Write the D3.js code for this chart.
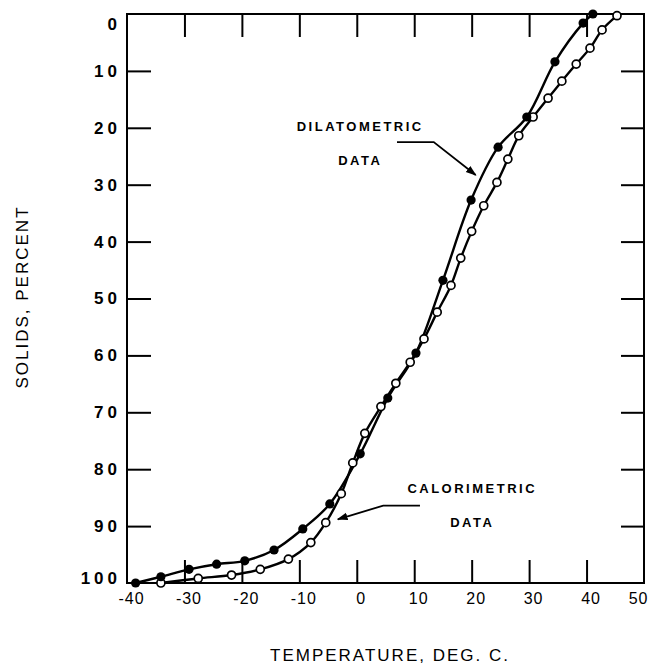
<!DOCTYPE html>
<html lang="en">
<head>
    <meta charset="UTF-8">
    <title>Solids vs temperature</title>
    <script src="https://d3js.org/d3.v7.min.js"></script>
    <style>
        body { margin: 0; background: #fff; }
        svg { display: block; }
        .ylab text { font-family: "Liberation Sans", Arial, sans-serif; font-weight: bold; font-size: 17px; letter-spacing: 4px; }
        .xlab text { font-family: "Liberation Sans", Arial, sans-serif; font-size: 16px; letter-spacing: 1px; }
        .note { font-family: "Liberation Sans", Arial, sans-serif; font-weight: bold; font-size: 13px; letter-spacing: 2.5px; }
        .title { font-family: "Liberation Sans", Arial, sans-serif; font-size: 17px; letter-spacing: 2px; }
    </style>
</head>
<body>
<div id="chart"></div>
<script>
    // dilatometric data (filled dots)
    var dilTemp   = [-38.5, -34.1, -29.2, -24.4, -19.5, -14.4, -9.4, -4.7, 0.6, 5.4, 10.3, 15.0, 19.9, 24.6, 29.6, 34.5, 39.4, 41.1];
    var dilSolids = [100, 98.9, 97.6, 96.7, 96.1, 94.2, 90.5, 86.1, 77.3, 67.5, 59.6, 46.8, 32.7, 23.4, 18.1, 8.4, 1.6, 0];

    // calorimetric data (open dots)
    var calTemp   = [-34.1, -27.6, -21.8, -16.8, -11.9, -8.0, -5.4, -2.7, -0.7, 1.4, 4.2, 6.8, 9.3, 11.7, 14.0, 16.4, 18.1, 20.0, 22.1, 24.4, 26.3, 28.2, 30.7, 33.3, 35.7, 38.2, 40.6, 42.7, 45.3];
    var calSolids = [100, 99.2, 98.6, 97.6, 95.8, 92.9, 89.4, 84.3, 78.9, 73.7, 69.0, 64.9, 61.2, 57.1, 52.4, 47.7, 42.9, 38.2, 33.7, 29.6, 25.5, 21.4, 18.1, 14.8, 11.8, 8.8, 6.0, 2.8, 0.3];

    var xTicks = [-40, -30, -20, -10, 0, 10, 20, 30, 40, 50];
    var yTicks = [0, 10, 20, 30, 40, 50, 60, 70, 80, 90, 100];

    var width = 649, height = 668;

    var svg = d3.select("#chart").append("svg")
        .attr("width", width)
        .attr("height", height);

    var x = d3.scaleLinear().domain([-40, 50]).range([127, 644]);
    var y = d3.scaleLinear().domain([0, 100]).range([14, 583]);

    svg.append("defs").append("marker")
        .attr("id", "head")
        .attr("viewBox", "0 0 10 10")
        .attr("refX", 9).attr("refY", 5)
        .attr("markerWidth", 6).attr("markerHeight", 6)
        .attr("orient", "auto")
        .append("path").attr("d", "M0,1.5 L10,5 L0,8.5 z").attr("fill", "#000");

    // ticks inside the frame
    var inner = xTicks.slice(1, -1);
    var innerY = yTicks.slice(1, -1);

    svg.append("g").attr("transform", "translate(0," + y(0) + ")")
        .call(d3.axisTop(x).tickValues(inner).tickSize(-23).tickFormat(""))
        .call(function(g) { g.select(".domain").remove(); });

    var xb = svg.append("g").attr("class", "xlab").attr("transform", "translate(0," + y(100) + ")")
        .call(d3.axisBottom(x).tickValues(xTicks).tickSize(-23).tickPadding(10).tickFormat(function(d) { return String(d); }))
        .call(function(g) { g.select(".domain").remove(); });
    xb.selectAll(".tick text").attr("dx", 4);
    xb.selectAll(".tick").filter(function(d) { return d === 50; }).select("text")
        .attr("text-anchor", "end").attr("dx", 4);
    xb.selectAll(".tick").filter(function(d) { return d === -40 || d === 50; }).select("line").remove();

    var yl = svg.append("g").attr("class", "ylab").attr("transform", "translate(" + x(-40) + ",0)")
        .call(d3.axisLeft(y).tickValues(yTicks).tickSize(-24).tickPadding(6))
        .call(function(g) { g.select(".domain").remove(); });
    yl.selectAll(".tick").filter(function(d) { return d === 0; }).select("text").attr("dy", "0.9em");
    yl.selectAll(".tick").filter(function(d) { return d === 100; }).select("text").attr("dy", "0");
    yl.selectAll(".tick").filter(function(d) { return d === 0 || d === 100; }).select("line").remove();

    svg.append("g").attr("transform", "translate(" + x(50) + ",0)")
        .call(d3.axisRight(y).tickValues(innerY).tickSize(-23).tickFormat(""))
        .call(function(g) { g.select(".domain").remove(); });

    svg.selectAll(".tick line").attr("stroke", "#000").attr("stroke-width", 2);
    svg.selectAll(".tick text").attr("fill", "#000");

    // frame
    svg.append("rect")
        .attr("x", x(-40)).attr("y", y(0))
        .attr("width", x(50) - x(-40)).attr("height", y(100) - y(0))
        .attr("fill", "none").attr("stroke", "#000").attr("stroke-width", 2);

    var line = d3.line()
        .x(function(d) { return x(d[0]); })
        .y(function(d) { return y(d[1]); })
        .curve(d3.curveCatmullRom.alpha(0.5));

    var dil = d3.zip(dilTemp, dilSolids);
    var cal = d3.zip(calTemp, calSolids);

    [dil, cal].forEach(function(pts) {
        svg.append("path").datum(pts)
            .attr("d", line)
            .attr("fill", "none")
            .attr("stroke", "#000")
            .attr("stroke-width", 2.4);
    });

    svg.selectAll(".cal").data(cal).enter().append("circle")
        .attr("class", "cal")
        .attr("cx", function(d) { return x(d[0]); })
        .attr("cy", function(d) { return y(d[1]); })
        .attr("r", 4)
        .attr("fill", "#fff").attr("stroke", "#000").attr("stroke-width", 1.7);

    svg.selectAll(".dil").data(dil).enter().append("circle")
        .attr("class", "dil")
        .attr("cx", function(d) { return x(d[0]); })
        .attr("cy", function(d) { return y(d[1]); })
        .attr("r", 4.6)
        .attr("fill", "#000");

    // labels with arrows
    function note(lines, tx, ty, arrow) {
        lines.forEach(function(t, i) {
            svg.append("text").attr("class", "note")
                .attr("x", x(tx)).attr("y", y(ty) + i * 34)
                .attr("text-anchor", "middle")
                .text(t);
        });
        svg.append("path")
            .attr("d", d3.line()(arrow.map(function(p) { return [x(p[0]), y(p[1])]; })))
            .attr("fill", "none").attr("stroke", "#000").attr("stroke-width", 1.8)
            .attr("marker-end", "url(#head)");
    }
    note(["DILATOMETRIC", "DATA"], 0.6, 20.6, [[7.0, 22.5], [13.4, 22.5], [20.7, 28.3]]);
    note(["CALORIMETRIC", "DATA"], 20.1, 84.2, [[11.0, 86.4], [4.6, 86.4], [-3.3, 88.8]]);

    svg.append("text").attr("class", "title")
        .attr("x", 390).attr("y", 661)
        .attr("text-anchor", "middle")
        .text("TEMPERATURE, DEG. C.");

    svg.append("text").attr("class", "title")
        .attr("transform", "translate(28,297) rotate(-90)")
        .attr("text-anchor", "middle")
        .text("SOLIDS, PERCENT");
</script>
</body>
</html>
